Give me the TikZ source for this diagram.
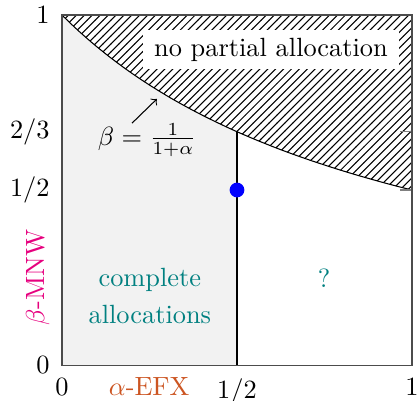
\documentclass[tikz,border=0pt]{standalone}
\usepackage{amsmath,amssymb}
\usepackage[dvipsnames]{xcolor}
\usetikzlibrary{patterns}

\definecolor{efxcol}{RGB}{204,85,34}
\definecolor{mnwcol}{RGB}{230,0,126}
\definecolor{regcol}{RGB}{0,128,128}

\begin{document}
\begin{tikzpicture}[x=4.667cm,y=4.667cm,
    ticklbl/.style={font=\normalsize,inner sep=0pt},
    region/.style={text=regcol,align=center},
    dot/.style={circle,fill=blue,inner sep=0pt,minimum size=5.6pt}]
  \useasboundingbox (-0.1771,-0.1) rectangle (1.0143,1.0429);
  % feasible regions
  \fill[black!5] (0,0) -- plot[domain=0:0.5,samples=40] (\x,{1/(1+\x)}) -- (0.5,0) -- cycle;
  \fill[pattern=north east lines] (0,1) -- plot[domain=0:1,samples=60] (\x,{1/(1+\x)}) -- (1,1) -- cycle;
  \draw[black] plot[domain=0:1,samples=60] (\x,{1/(1+\x)});
  \draw[black] (0.5,0) -- (0.5,2/3);
  \foreach \y in {0.5,0.6667} \draw[black!50] (1,\y) -- (0.965,\y);
  \draw[black!70] (0,0) rectangle (1,1);
  % tick labels
  \foreach \y/\t in {0/0,0.5/1\slash 2,0.6667/2\slash 3,1/1}
    \node[ticklbl,anchor=east] (y\y) at (-0.034,\y) {$\t$};
  \foreach \x/\t in {0/0,0.5/1\slash 2,1/1}
    \node[ticklbl,anchor=north] (x\x) at (\x,-0.037) {$\t$};
  \path (x0.base) ++(0.249,0) node[text=efxcol,anchor=base,inner sep=0pt] (efx) {$\alpha$-EFX};
  \node[text=mnwcol,rotate=90] (mnw) at (-0.069,0.249) {$\beta$-MNW};
  % labels
  \node[fill=white,inner xsep=4.3pt,inner ysep=3pt] (npa) at (0.597,0.901) {no partial allocation};
  \node (curvelbl) at (0.243,0.643) {$\beta=\frac{1}{1+\alpha}$};
  \coordinate (arrfrom) at (0.2,0.691);
  \coordinate (arrto) at (0.271,0.76);
  \draw[->] (arrfrom) -- (arrto);
  \node[region] (complete) at (0.251,0.196) {complete\\[2pt]allocations};
  \node[region] (unknown) at (0.749,0.249) {?};
  \node[dot] (half) at (0.5,0.5) {};
\end{tikzpicture}
\end{document}
